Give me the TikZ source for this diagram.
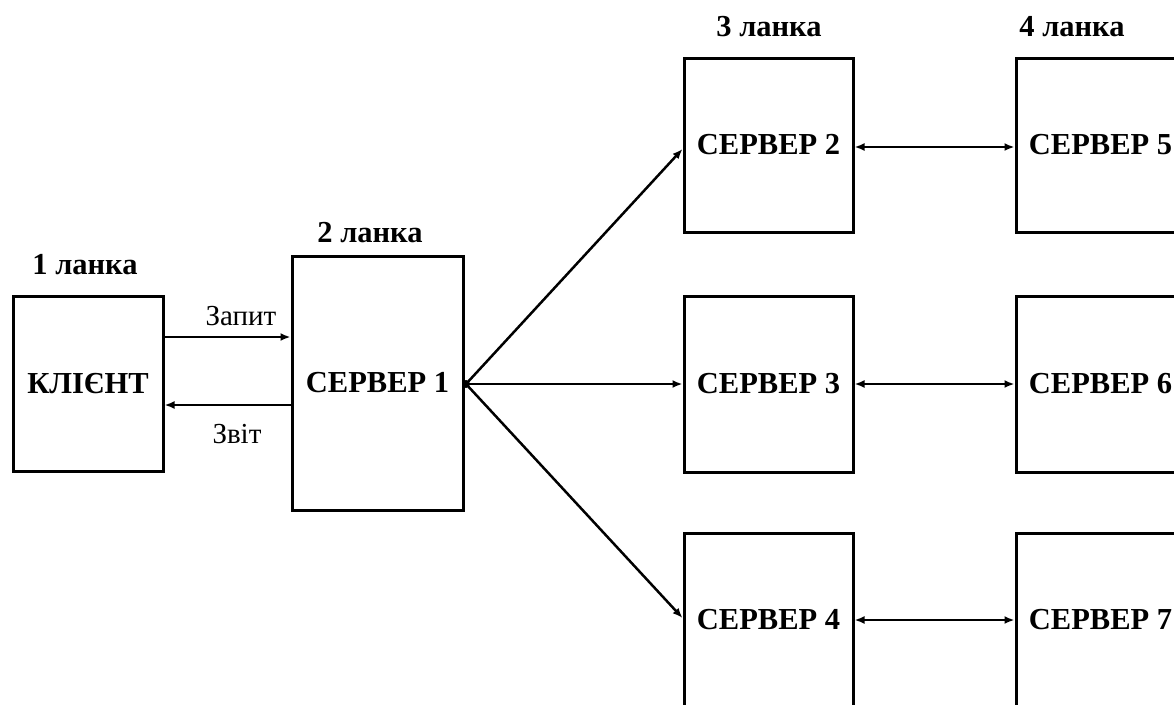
\documentclass[tikz,border=0pt]{standalone}
\usepackage{fontspec}
\setmainfont{Liberation Serif}
\usetikzlibrary{arrows.meta}
\begin{document}
\begin{tikzpicture}[x=1pt,y=-1pt,
  box/.style={draw,line width=3pt,inner sep=0pt,font=\bfseries\fontsize{30.5}{33}\selectfont},
  head/.style={inner sep=0pt,font=\bfseries\fontsize{30.5}{33}\selectfont},
  lab/.style={inner sep=0pt,font=\fontsize{29}{32}\selectfont},
  arr/.style={line width=2.5pt,-{Latex[length=10pt,width=8pt]}},
  darr/.style={line width=2.5pt,{Latex[length=10pt,width=8pt]}-{Latex[length=10pt,width=8pt]}}]
\useasboundingbox (0,0) rectangle (1174,704);
% boxes
\node[box,minimum width=150pt,minimum height=175pt] (cl) at (88,383.5) {КЛІЄНТ};
\node[box,minimum width=171pt,minimum height=254pt] (s1) at (377.5,383) {СЕРВЕР 1};
\node[box,minimum width=169pt,minimum height=174pt] (s2) at (768.5,145) {СЕРВЕР 2};
\node[box,minimum width=169pt,minimum height=176pt] (s3) at (768.5,384) {СЕРВЕР 3};
\node[box,minimum width=169pt,minimum height=174pt] (s4) at (768.5,620) {СЕРВЕР 4};
\node[box,minimum width=169pt,minimum height=174pt] (s5) at (1100.5,145) {СЕРВЕР 5};
\node[box,minimum width=169pt,minimum height=176pt] (s6) at (1100.5,384) {СЕРВЕР 6};
\node[box,minimum width=169pt,minimum height=174pt] (s7) at (1100.5,620) {СЕРВЕР 7};
% headings
\node[head] (h1) at (85,265) {1 ланка};
\node[head] (h2) at (370,233) {2 ланка};
\node[head] (h3) at (769,27) {3 ланка};
\node[head] (h4) at (1072,27) {4 ланка};
% client links
\draw[arr] (cl.east |- 0,337) -- (s1.west |- 0,337);
\draw[arr] (s1.west |- 0,405) -- (cl.east |- 0,405);
\node[lab] (zap) at (241,316) {Запит};
\node[lab] (zvit) at (237,434) {Звіт};
% junction
\coordinate (j) at (466,384);
\fill (j) circle (4pt);
\draw[arr] (j) -- (s2.west |- 0,149);
\draw[arr] (j) -- (s3.west |- 0,384);
\draw[arr] (j) -- (s4.west |- 0,618);
% level 3-4 links
\draw[darr] (s2.east |- 0,147) -- (s5.west |- 0,147);
\draw[darr] (s3.east) -- (s6.west);
\draw[darr] (s4.east |- 0,620) -- (s7.west |- 0,620);
\end{tikzpicture}
\end{document}
